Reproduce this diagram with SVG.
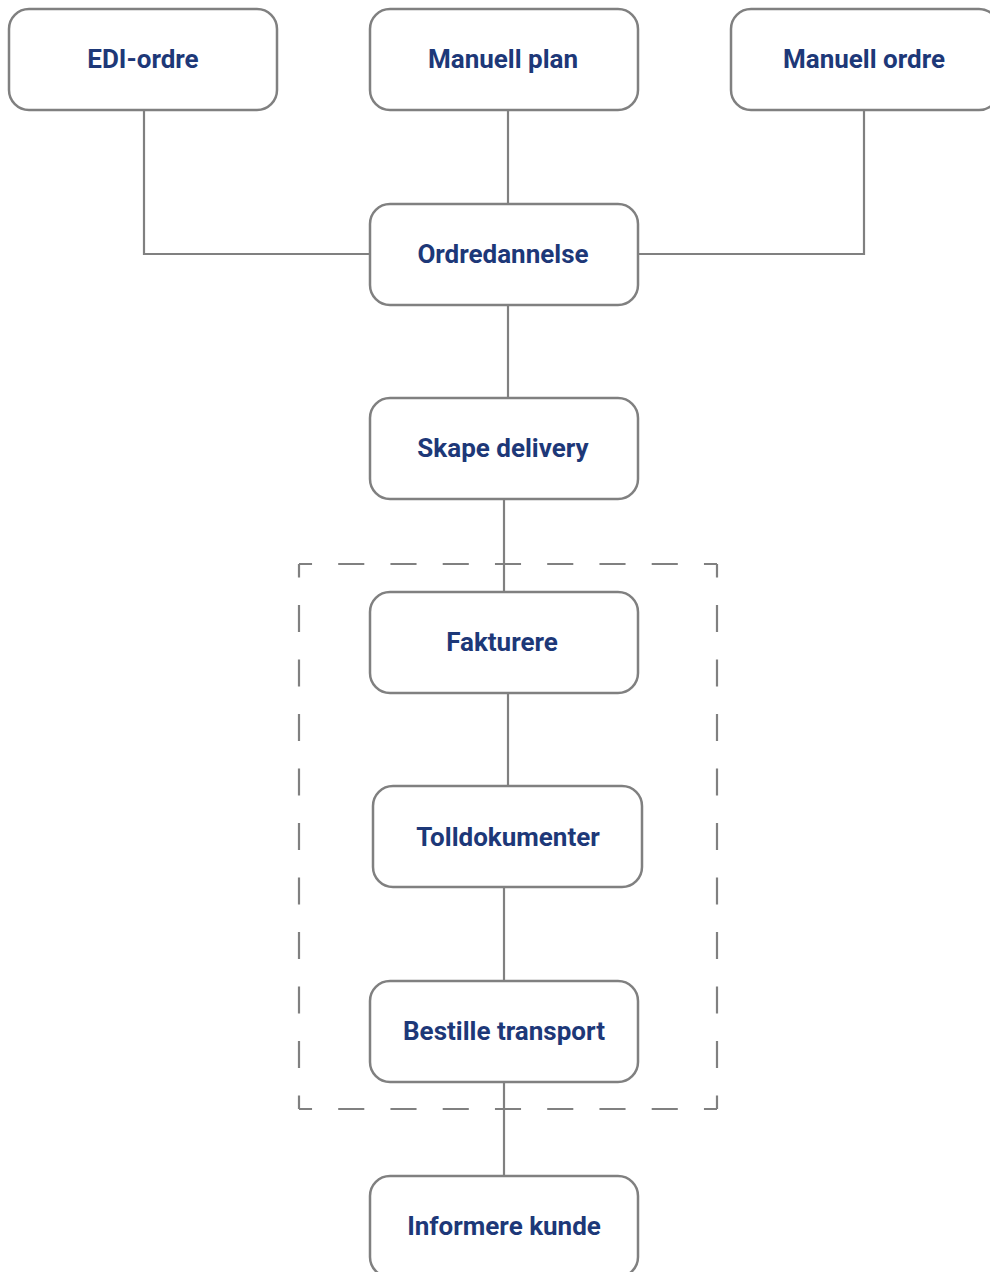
<svg xmlns="http://www.w3.org/2000/svg" width="990" height="1272" viewBox="0 0 990 1272">
  <style>
    .box { fill: #ffffff; stroke: #808080; stroke-width: 2.5; }
    .label { font-family: "Roboto", "Liberation Sans", sans-serif; font-weight: 700; font-size: 26px; fill: #1d3878; text-anchor: middle; }
    .wire { fill: none; stroke: #808080; stroke-width: 2.2; }
    .dash { stroke: #808080; stroke-width: 2.2; fill: none; }
  </style>
  <rect width="990" height="1272" fill="#ffffff"/>

  <!-- dashed grouping frame around the shipping steps -->
  <g id="frame">
    <line class="dash" x1="299" y1="564" x2="717" y2="564" stroke-dasharray="26.1 26.15" stroke-dashoffset="13.05"/>
    <line class="dash" x1="299" y1="1109" x2="717" y2="1109" stroke-dasharray="26.1 26.15" stroke-dashoffset="13.05"/>
    <line class="dash" x1="299" y1="564" x2="299" y2="1109" stroke-dasharray="27 27.5" stroke-dashoffset="13.5"/>
    <line class="dash" x1="717" y1="564" x2="717" y2="1109" stroke-dasharray="27 27.5" stroke-dashoffset="13.5"/>
  </g>

  <g id="connectors">
    <polyline class="wire" points="144,110 144,254 370,254"/>
    <line class="wire" x1="508" y1="110" x2="508" y2="204"/>
    <polyline class="wire" points="864,110 864,254 638,254"/>
    <line class="wire" x1="508" y1="305" x2="508" y2="398"/>
    <line class="wire" x1="504" y1="499" x2="504" y2="592"/>
    <line class="wire" x1="508" y1="693" x2="508" y2="786"/>
    <line class="wire" x1="504" y1="887" x2="504" y2="981"/>
    <line class="wire" x1="504" y1="1082" x2="504" y2="1176"/>
  </g>

  <g id="edi-ordre">
    <rect class="box" x="9" y="9" width="268" height="101" rx="20"/>
    <text class="label" x="143" y="68">EDI-ordre</text>
  </g>
  <g id="manuell-plan">
    <rect class="box" x="370" y="9" width="268" height="101" rx="20"/>
    <text class="label" x="503" y="68">Manuell plan</text>
  </g>
  <g id="manuell-ordre">
    <rect class="box" x="731" y="9" width="268" height="101" rx="20"/>
    <text class="label" x="864" y="68">Manuell ordre</text>
  </g>
  <g id="ordredannelse">
    <rect class="box" x="370" y="204" width="268" height="101" rx="20"/>
    <text class="label" x="503" y="263">Ordredannelse</text>
  </g>
  <g id="skape-delivery">
    <rect class="box" x="370" y="398" width="268" height="101" rx="20"/>
    <text class="label" x="503" y="457">Skape delivery</text>
  </g>
  <g id="fakturere">
    <rect class="box" x="370" y="592" width="268" height="101" rx="20"/>
    <text class="label" x="502" y="651">Fakturere</text>
  </g>
  <g id="tolldokumenter">
    <rect class="box" x="373" y="786" width="269" height="101" rx="20"/>
    <text class="label" x="508" y="846">Tolldokumenter</text>
  </g>
  <g id="bestille-transport">
    <rect class="box" x="370" y="981" width="268" height="101" rx="20"/>
    <text class="label" x="504" y="1040">Bestille transport</text>
  </g>
  <g id="informere-kunde">
    <rect class="box" x="370" y="1176" width="268" height="101" rx="20"/>
    <text class="label" x="504" y="1235">Informere kunde</text>
  </g>
</svg>
